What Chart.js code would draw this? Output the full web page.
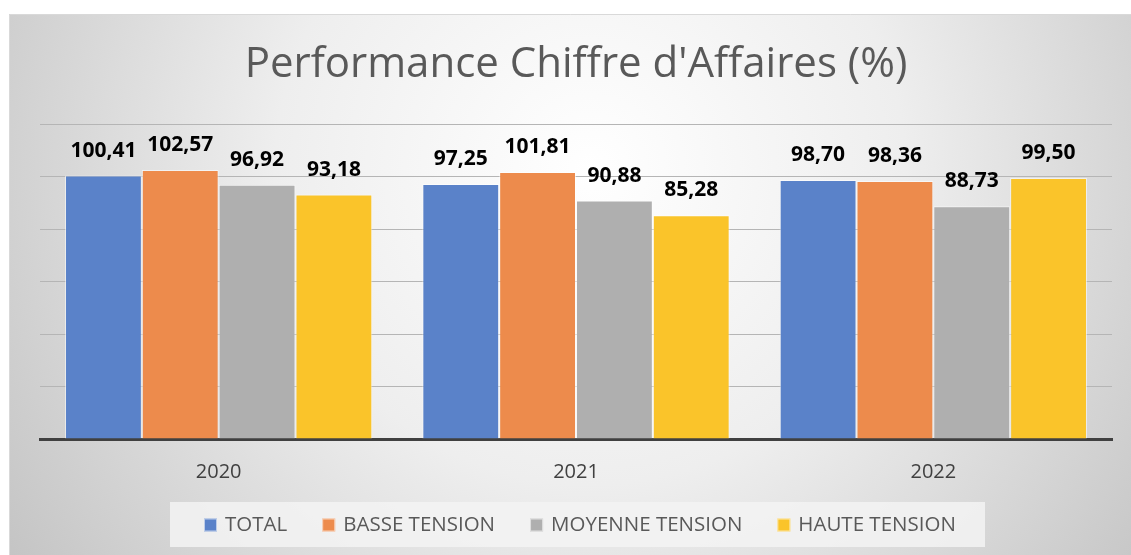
<!DOCTYPE html>
<html><head><meta charset="utf-8">
<script src="https://cdn.jsdelivr.net/npm/chart.js@4"></script>
<style>html,body{margin:0;padding:0;background:#fff;}#wrap{width:1131px;height:555px;position:relative;}</style>
</head><body><div id="wrap"><canvas id="c" width="1131" height="555"></canvas></div>
<script>
const categories = ['2020', '2021', '2022'];
const seriesNames = ['TOTAL', 'BASSE TENSION', 'MOYENNE TENSION', 'HAUTE TENSION'];
const total = [100.41, 97.25, 98.70];
const basseTension = [102.57, 101.81, 98.36];
const moyenneTension = [96.92, 90.88, 88.73];
const hauteTension = [93.18, 85.28, 99.50];
const colors = ['#5a82c9', '#ed8b4c', '#afafaf', '#fac42a'];
const titleText = "Performance Chiffre d'Affaires (%)";

const bgPlugin = {
  id: 'bg',
  beforeDraw(chart) {
    const ctx = chart.ctx;
    ctx.save();
    ctx.fillStyle = '#fff';
    ctx.fillRect(0, 0, chart.width, chart.height);
    const x0 = 9, y0 = 14, w = chart.width - x0, h = chart.height - y0;
    const g = ctx.createRadialGradient(590, 170, 0, 590, 170, 700);
    g.addColorStop(0, '#ffffff');
    g.addColorStop(0.45, '#eeeeee');
    g.addColorStop(1, '#c4c4c4');
    ctx.fillStyle = g;
    ctx.fillRect(x0, y0, w, h);
    ctx.strokeStyle = '#d9d9d9';
    ctx.lineWidth = 1;
    ctx.beginPath();
    ctx.moveTo(x0 + 0.5, chart.height);
    ctx.lineTo(x0 + 0.5, y0 + 0.5);
    ctx.lineTo(chart.width, y0 + 0.5);
    ctx.stroke();
    ctx.restore();
  }
};

const legendPlugin = {
  id: 'customLegend',
  afterDraw(chart) {
    const ctx = chart.ctx;
    ctx.save();
    ctx.fillStyle = 'rgba(243,243,243,0.85)';
    ctx.fillRect(170, 502, 815, 45);
    ctx.font = '20.5px "Open Sans", sans-serif';
    ctx.textBaseline = 'middle';
    ctx.textAlign = 'left';
    let x = 204;
    const cy = 525;
    chart.data.datasets.forEach((ds) => {
      ctx.fillStyle = ds.backgroundColor;
      ctx.fillRect(x, cy - 6.5, 13, 13);
      ctx.strokeStyle = 'rgba(255,255,255,0.6)';
      ctx.lineWidth = 1;
      ctx.strokeRect(x + 0.5, cy - 6, 12, 12);
      ctx.fillStyle = '#595959';
      ctx.fillText(ds.label, x + 21, cy);
      x += 21 + ctx.measureText(ds.label).width + 35;
    });
    ctx.restore();
  }
};

const labelPlugin = {
  id: 'vals',
  afterDatasetsDraw(chart) {
    const ctx = chart.ctx;
    ctx.save();
    ctx.font = 'bold 21px "Open Sans", sans-serif';
    ctx.fillStyle = '#000';
    ctx.textAlign = 'center';
    ctx.textBaseline = 'middle';
    chart.data.datasets.forEach((ds, i) => {
      const meta = chart.getDatasetMeta(i);
      meta.data.forEach((bar, j) => {
        const v = ds.data[j];
        ctx.fillText(v.toFixed(2).replace('.', ','), bar.x, bar.y - 25);
      });
    });
    ctx.restore();
  }
};

const seriesData = [total, basseTension, moyenneTension, hauteTension];
new Chart(document.getElementById('c'), {
  type: 'bar',
  data: {
    labels: categories,
    datasets: seriesNames.map((n, i) => ({
      label: n,
      data: seriesData[i],
      backgroundColor: colors[i],
      borderColor: 'rgba(255,255,255,0.55)',
      borderWidth: 1,
      categoryPercentage: 0.86,
      barPercentage: 1.0
    }))
  },
  options: {
    responsive: false,
    animation: false,
    layout: { padding: { left: 40, right: 19, top: 0, bottom: 50 } },
    plugins: {
      title: {
        display: true, text: titleText,
        font: { family: '"Open Sans", sans-serif', size: 42, weight: 'normal' },
        color: '#595959',
        padding: { top: 40, bottom: 33.8 }
      },
      legend: { display: false },
      tooltip: { enabled: false }
    },
    scales: {
      x: {
        grid: { display: false, drawTicks: false },
        border: { display: true, color: '#404040', width: 3 },
        ticks: { font: { family: '"Open Sans", sans-serif', size: 20 }, color: '#404040', padding: 21 }
      },
      y: {
        min: 0, max: 120,
        ticks: { display: false, stepSize: 20 },
        grid: { color: '#b5b5b5', drawTicks: false, lineWidth: 1 },
        border: { display: false }
      }
    }
  },
  plugins: [bgPlugin, labelPlugin, legendPlugin]
});
</script></body></html>
